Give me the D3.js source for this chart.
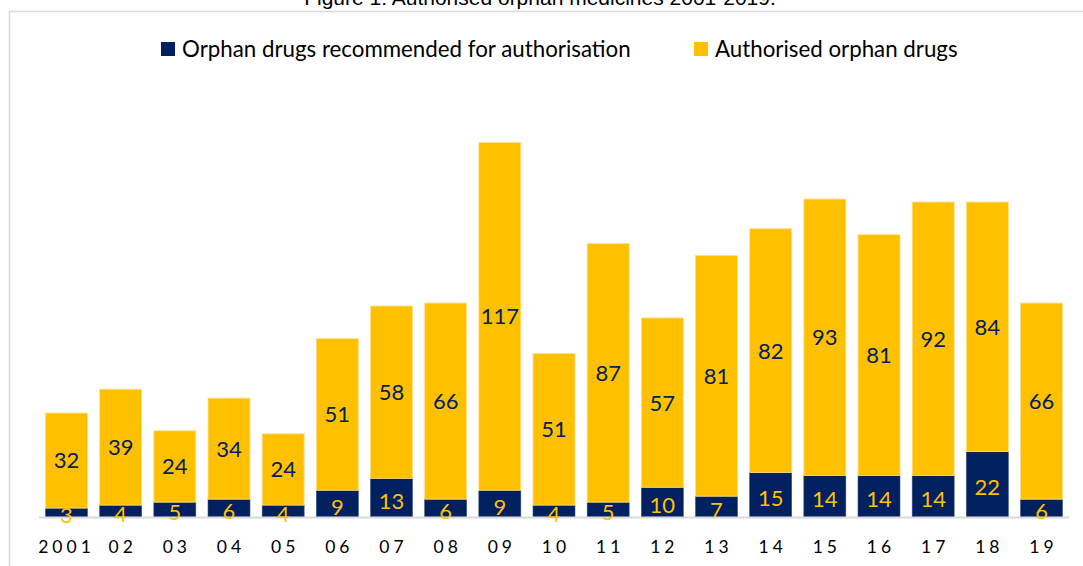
<!DOCTYPE html>
<html>
<head>
<meta charset="utf-8">
<script src="https://cdn.jsdelivr.net/npm/d3@7"></script>
<style>
  body { margin: 0; background: #fff; }
  svg { display: block; font-family: Lato, "Open Sans", sans-serif; }
</style>
</head>
<body>
<svg id="chart"></svg>
<script>
// data
const years = ['2001', '02', '03', '04', '05', '06', '07', '08', '09', '10',
               '11', '12', '13', '14', '15', '16', '17', '18', '19']
const recommended = [3, 4, 5, 6, 4, 9, 13, 6, 9, 4, 5, 10, 7, 15, 14, 14, 14, 22, 6]
const authorised = [32, 39, 24, 34, 24, 51, 58, 66, 117, 51, 87, 57, 81, 82, 93, 81, 92, 84, 66]
const seriesNames = ['Orphan drugs recommended for authorisation', 'Authorised orphan drugs']

const navy = '#002060'
const gold = '#FFC000'

const width = 1083
const height = 566

const svg = d3.select('#chart')
    .attr('width', width)
    .attr('height', height)

// title is cut off by the top edge in the original
svg.append('text')
    .attr('x', 540)
    .attr('y', 5)
    .attr('text-anchor', 'middle')
    .style('font-family', 'Liberation Sans, Arial, sans-serif')
    .style('font-size', '21px')
    .attr('fill', '#000')
    .text('Figure 1: Authorised orphan medicines 2001-2019.')

// chart frame
svg.append('rect')
    .attr('x', 9.5)
    .attr('y', 11.5)
    .attr('width', 1090)
    .attr('height', 600)
    .attr('fill', 'none')
    .attr('stroke', '#d9d9d9')
    .attr('stroke-width', 1.5)

const rows = years.map((y, i) => ({ year: y, rec: recommended[i], auth: authorised[i] }))

const xScale = d3.scaleBand()
    .domain(years)
    .range([39, 1069])
    .paddingInner(0.225)
    .paddingOuter(0.12)

const yScale = d3.scaleLinear()
    .domain([0, 140])
    .range([517, 101])

// recommended (bottom)
svg.selectAll('.rec')
    .data(rows)
    .join('rect')
    .attr('class', 'rec')
    .attr('x', d => xScale(d.year))
    .attr('y', d => yScale(d.rec))
    .attr('width', xScale.bandwidth())
    .attr('height', d => yScale(0) - yScale(d.rec))
    .attr('fill', navy)
    .attr('stroke', '#3a4f86')
    .attr('stroke-width', 0.6)

// authorised (stacked on top)
svg.selectAll('.auth')
    .data(rows)
    .join('rect')
    .attr('class', 'auth')
    .attr('x', d => xScale(d.year))
    .attr('y', d => yScale(d.rec + d.auth))
    .attr('width', xScale.bandwidth())
    .attr('height', d => yScale(d.rec) - yScale(d.rec + d.auth))
    .attr('fill', gold)
    .attr('stroke', '#ffe08a')
    .attr('stroke-width', 0.8)

// x axis
const xAxis = d3.axisBottom(xScale).tickSize(0).tickPadding(24)
const gx = svg.append('g')
    .attr('transform', `translate(0, ${yScale(0)})`)
    .call(xAxis)
gx.select('.domain')
    .attr('d', 'M39,0.5H1069')
    .attr('stroke', '#d9d9d9')
    .attr('stroke-width', 2)
gx.selectAll('text')
    .style('font-family', 'Lato, sans-serif')
    .style('font-size', '17.5px')
    .style('letter-spacing', '4px')
    .attr('fill', '#000')
    .attr('dx', d => d === '2001' ? '0px' : '2px')

// labels
const cx = d => xScale(d.year) + xScale.bandwidth() / 2
svg.selectAll('.auth-label')
    .data(rows)
    .join('text')
    .attr('class', 'auth-label')
    .attr('x', cx)
    .attr('y', d => yScale(d.rec + d.auth / 2))
    .attr('dy', '0.36em')
    .attr('text-anchor', 'middle')
    .style('font-size', '22px')
    .attr('fill', navy)
    .text(d => d.auth)

svg.selectAll('.rec-label')
    .data(rows)
    .join('text')
    .attr('class', 'rec-label')
    .attr('x', cx)
    .attr('y', d => yScale(d.rec / 2) + 3)
    .attr('dy', '0.36em')
    .attr('text-anchor', 'middle')
    .style('font-size', '22px')
    .attr('fill', gold)
    .text(d => d.rec)

// legend
const legend = svg.append('g')
const legendItems = [
    { name: seriesNames[0], color: navy, x: 161 },
    { name: seriesNames[1], color: gold, x: 694 }
]
legendItems.forEach(l => {
    legend.append('rect')
        .attr('x', l.x)
        .attr('y', 42)
        .attr('width', 14)
        .attr('height', 14)
        .attr('fill', l.color)
    legend.append('text')
        .attr('x', l.x + 21)
        .attr('y', 49)
        .attr('dy', '0.36em')
        .style('font-size', '22.3px')
        .attr('fill', '#000')
        .text(l.name)
})
</script>
</body>
</html>
